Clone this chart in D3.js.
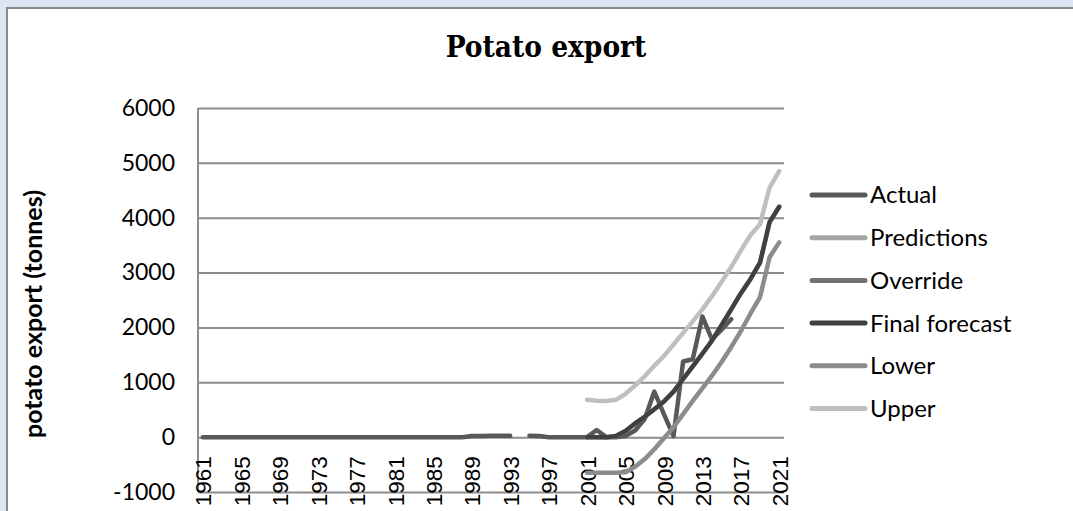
<!DOCTYPE html>
<html>
<head>
<meta charset="utf-8">
<script src="https://cdn.jsdelivr.net/npm/d3@7"></script>
<style>
  body { margin: 0; background: #dce6f2; }
  svg { display: block; }
</style>
</head>
<body>
<div id="chart"></div>
<script>
// years on the category axis
var years = d3.range(1961, 2022);
var labelYears = d3.range(1961, 2022, 4);
var yTicks = [-1000, 0, 1000, 2000, 3000, 4000, 5000, 6000];

// actual export, one value per year (null = no data)
var actual = [
  0, 0, 0, 0, 0, 0, 0, 0, 0, 0, 0, 0, 0, 0, 0, 0, 0, 0, 0, 0,
  0, 0, 0, 0, 0, 0, 0, 0, 20, 20, 25, 25, 25, null, 25, 20,
  0, 0, 0, 0, 0, 130, 0, 0, 20, 120, 330, 830, 420, 20,
  1380, 1420, 2200, 1780, 1960, 2150, null, null, null, null, null
];

// forecast series start in 2001
var forecastStart = 2001;
var finalForecast = [0, 0, 0, 20, 110, 250, 370, 510, 650, 830, 1060, 1290, 1520, 1760, 2040, 2330, 2620, 2880, 3180, 3920, 4200];
var predictions = finalForecast.slice();
var override = [];
var lower = [-650, -650, -650, -650, -640, -540, -400, -220, -20, 180, 420, 660, 890, 1120, 1370, 1640, 1930, 2250, 2550, 3280, 3550];
var upper = [680, 665, 660, 680, 790, 940, 1110, 1300, 1480, 1690, 1900, 2110, 2330, 2570, 2830, 3100, 3400, 3680, 3880, 4550, 4850];

var seriesNames = ["Actual", "Predictions", "Override", "Final forecast", "Lower", "Upper"];
var seriesColors = ["#595959", "#a6a6a6", "#737373", "#404040", "#8c8c8c", "#bfbfbf"];

(function() {
  var margin = { top: 108, left: 198, right: 289, bottom: 19 },
    width = 1073 - margin.left - margin.right,
    height = 511 - margin.top - margin.bottom

  var root = d3.select("#chart")
    .append("svg")
    .attr("width", 1073)
    .attr("height", 511)

  root.append("rect")
    .attr("width", 1073)
    .attr("height", 511)
    .attr("fill", "#dce6f2")

  root.append("rect")
    .attr("x", 7)
    .attr("y", 8)
    .attr("width", 1100)
    .attr("height", 540)
    .attr("fill", "white")
    .attr("stroke", "#898989")
    .attr("stroke-width", 2)

  root.append("text")
    .attr("x", 546)
    .attr("y", 57)
    .attr("text-anchor", "middle")
    .style("font-family", "'DejaVu Serif Condensed', 'DejaVu Serif', serif")
    .style("font-stretch", "condensed")
    .style("font-weight", "bold")
    .style("font-size", "29.5px")
    .text("Potato export")

  root.append("text")
    .attr("transform", "translate(42,314) rotate(-90)")
    .attr("text-anchor", "middle")
    .style("font-family", "Lato, sans-serif")
    .style("font-weight", "bold")
    .style("font-size", "25px")
    .text("potato export (tonnes)")

  var svg = root.append("g")
    .attr("transform", "translate(" + margin.left + "," + margin.top + ")")

  var xPositionScale = d3.scalePoint()
    .domain(years)
    .range([0, width])
    .padding(0.5)

  var yPositionScale = d3.scaleLinear()
    .domain([-1000, 6000])
    .range([height, 0])

  // gridlines + value labels
  var yAxis = d3.axisLeft(yPositionScale)
    .tickValues(yTicks)
    .tickFormat(function(d) { return String(d) })
    .tickSize(-width)
    .tickPadding(23)
  svg.append("g")
    .attr("class", "axis y-axis")
    .call(yAxis)
    .call(function(g) { g.select(".domain").remove() })
    .call(function(g) {
      g.selectAll("line").attr("stroke", "#8c8c8c").attr("stroke-width", 2)
      g.selectAll("text")
        .attr("fill", "#000")
        .style("font-family", "Lato, sans-serif")
        .style("font-size", "23px")
    })

  svg.append("line")
    .attr("x1", 0)
    .attr("x2", 0)
    .attr("y1", 0)
    .attr("y2", height)
    .attr("stroke", "#8c8c8c")
    .attr("stroke-width", 2)

  var xAxis = d3.axisBottom(xPositionScale)
    .tickValues(labelYears)
    .tickSize(0)
  svg.append("g")
    .attr("class", "axis x-axis")
    .attr("transform", "translate(0," + yPositionScale(0) + ")")
    .call(xAxis)
    .call(function(g) { g.select(".domain").remove() })
    .call(function(g) {
      g.selectAll("text")
        .attr("transform", "rotate(-90)")
        .attr("text-anchor", "end")
        .attr("x", -19)
        .attr("y", 0)
        .attr("dy", "0.36em")
        .attr("fill", "#000")
        .style("font-family", "'Liberation Sans', Arial, sans-serif")
        .style("font-size", "22.5px")
    })

  function forecastPoints(values) {
    return values.map(function(v, i) {
      return { year: forecastStart + i, value: v }
    })
  }

  var seriesData = [
    years.map(function(y, i) { return { year: y, value: actual[i] } }),
    forecastPoints(predictions),
    forecastPoints(override),
    forecastPoints(finalForecast),
    forecastPoints(lower),
    forecastPoints(upper)
  ]

  var line = d3.line()
    .defined(function(d) { return d.value != null })
    .x(function(d) { return xPositionScale(d.year) })
    .y(function(d) { return yPositionScale(d.value) })

  svg.selectAll(".series")
    .data(seriesData)
    .enter().append("path")
    .attr("class", "series")
    .attr("d", line)
    .attr("fill", "none")
    .attr("stroke", function(d, i) { return seriesColors[i] })
    .attr("stroke-width", 4.5)
    .attr("stroke-linecap", "round")
    .attr("stroke-linejoin", "round")

  // legend
  var legend = root.append("g")
    .attr("transform", "translate(810,195)")

  var item = legend.selectAll(".legend-item")
    .data(seriesNames)
    .enter().append("g")
    .attr("class", "legend-item")
    .attr("transform", function(d, i) { return "translate(0," + (i * 42.7) + ")" })

  item.append("line")
    .attr("x1", 2)
    .attr("x2", 55)
    .attr("stroke", function(d, i) { return seriesColors[i] })
    .attr("stroke-width", 5)
    .attr("stroke-linecap", "round")

  item.append("text")
    .attr("x", 60)
    .attr("dy", "0.35em")
    .style("font-family", "Lato, sans-serif")
    .style("font-size", "24px")
    .text(function(d) { return d })
})();
</script>
</body>
</html>
